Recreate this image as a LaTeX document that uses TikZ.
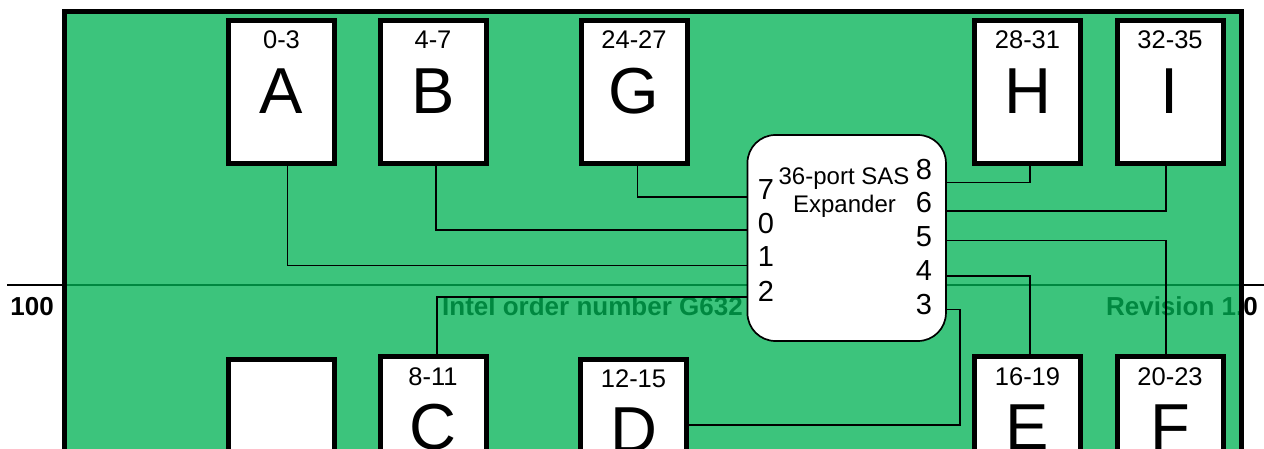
\documentclass[tikz,border=0pt]{standalone}
\usepackage{fontspec}
\setmainfont{Liberation Sans}
\definecolor{boardgreen}{RGB}{0,178,84}
\tikzset{
  slot/.style={draw=black, fill=white, line width=5pt, minimum width=106pt, minimum height=143pt, inner sep=0pt, outer sep=0pt},
  rng/.style={font=\fontsize{25.5}{28}\selectfont, anchor=base, inner sep=0pt},
  letter/.style={font=\fontsize{65}{70}\selectfont, anchor=base, inner sep=0pt},
  port/.style={font=\fontsize{29}{32}\selectfont, anchor=base, inner sep=0pt},
  exptext/.style={font=\fontsize{24}{27}\selectfont, anchor=base, inner sep=0pt},
  wire/.style={draw=black, line width=1.6pt},
  foot/.style={font=\bfseries\fontsize{26}{28}\selectfont, inner sep=0pt},
  expbox/.style={draw=black, fill=white, line width=1.7pt, rounded corners=28pt, minimum width=198.5pt, minimum height=206pt, inner sep=0pt, outer sep=0pt},
}
\begin{document}
\begin{tikzpicture}[x=1pt,y=-1pt]
\useasboundingbox (0,0) rectangle (1264,449);
\clip (0,0) rectangle (1264,449);
% page underneath
\draw[line width=1.7pt] (7,285) -- (1264,285);
\node[foot, anchor=base east] (pg) at (54,315) {100};
\node[foot, anchor=base west] (ord) at (442,315) {Intel order number G632};
\node[foot, anchor=base east] (rev) at (1258,315) {Revision 1.0};
% board
\fill[boardgreen, opacity=0.765] (64,12) rectangle (1241,470);
\draw[line width=5pt] (64,12) rectangle (1241,470);
% expander
\node[expbox] (exp) at (846.7,238) {};
\node[exptext] (exp1) at (844,185) {36-port SAS};
\node[exptext] (exp2) at (844.5,212.7) {Expander};
\node[port] (l7) at (766,200) {7};
\node[port] (l0) at (766,233.4) {0};
\node[port] (l1) at (766,266.8) {1};
\node[port] (l2) at (766,301.2) {2};
\node[port] (r8) at (924,180) {8};
\node[port] (r6) at (924,213) {6};
\node[port] (r5) at (924,247) {5};
\node[port] (r4) at (924,280.8) {4};
\node[port] (r3) at (924,314.5) {3};
% slots
\node[slot] (A) at (281.5,92) {};
\node[slot] (B) at (433,92) {};
\node[slot] (G) at (634,92) {};
\node[slot] (H) at (1027.5,92) {};
\node[slot] (I) at (1170,92) {};
\node[slot] (X) at (281.5,431) {};
\node[slot] (C) at (433,428) {};
\node[slot] (D) at (633.5,431) {};
\node[slot] (E) at (1027.5,428) {};
\node[slot] (F) at (1170,428) {};
% slot texts
\node[rng] (tA) at (281.5,48.3) {0-3};
\node[rng] (tB) at (433,48.3) {4-7};
\node[rng] (tG) at (634,48.3) {24-27};
\node[rng] (tH) at (1027.5,48.3) {28-31};
\node[rng] (tI) at (1170,48.3) {32-35};
\node[rng] (tC) at (433,385) {8-11};
\node[rng] (tD) at (633.5,387.5) {12-15};
\node[rng] (tE) at (1027.5,385) {16-19};
\node[rng] (tF) at (1170,385) {20-23};
\node[letter] (nA) at (281.5,113.3) {A};
\node[letter] (nB) at (433,113.3) {B};
\node[letter] (nG) at (634,113.3) {G};
\node[letter] (nH) at (1027.5,113.3) {H};
\node[letter] (nI) at (1170,113.3) {I};
\node[letter] (nC) at (433,449.8) {C};
\node[letter] (nD) at (633.5,452.3) {D};
\node[letter] (nE) at (1027.5,449.8) {E};
\node[letter] (nF) at (1170,449.8) {F};
% wires
\coordinate (dturn) at (960,425);
\draw[wire] ([xshift=3.3pt]G.south) |- (exp.west |- 0,197);
\draw[wire] ([xshift=3pt]B.south) |- (exp.west |- 0,230);
\draw[wire] ([xshift=5.8pt]A.south) |- (exp.west |- 0,265.7);
\draw[wire] ([xshift=4pt]C.north) |- (exp.west |- 0,296.7);
\draw[wire] ([xshift=2.5pt]H.south) |- (exp.east |- 0,182.5);
\draw[wire] ([xshift=-4.3pt]I.south) |- (exp.east |- 0,211);
\draw[wire] ([xshift=-4pt]F.north) |- (exp.east |- 0,240.7);
\draw[wire] ([xshift=2.5pt]E.north) |- (exp.east |- 0,276);
\draw[wire] (exp.east |- 0,309.3) -| (dturn) -- (D.east |- dturn);
\end{tikzpicture}
\end{document}
